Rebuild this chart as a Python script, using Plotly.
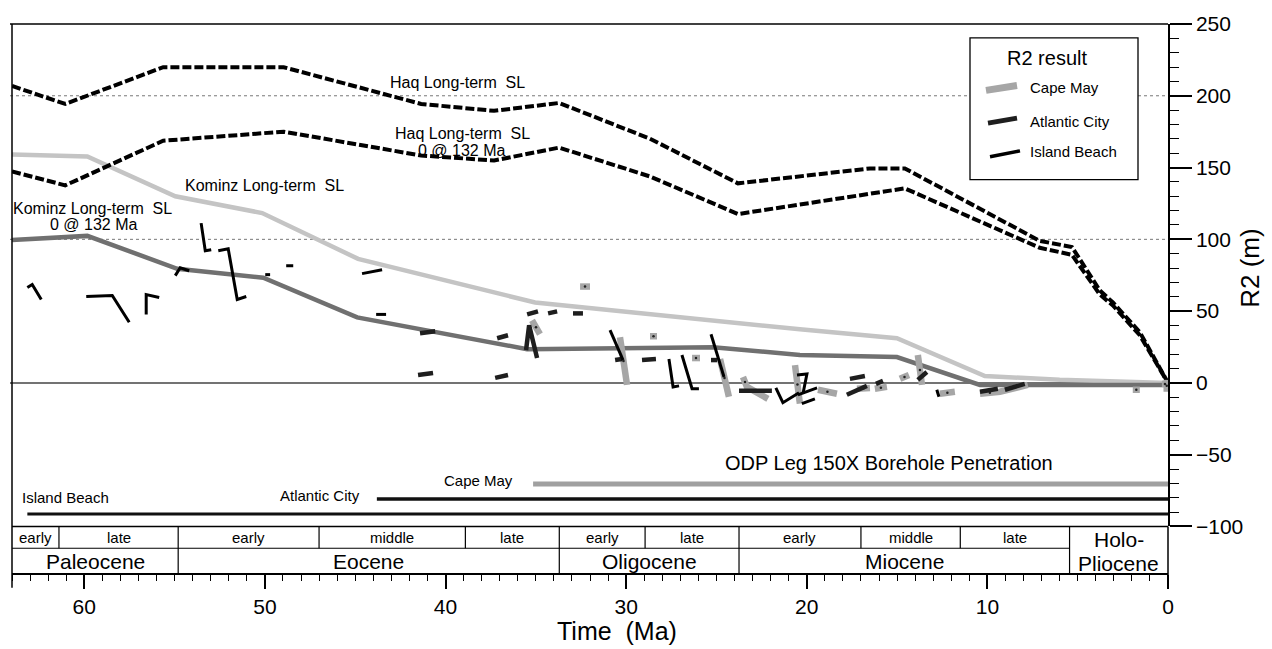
import plotly.graph_objects as go

# ---------------- data (age in Ma, value in m) ----------------
haq_ages = [64.0, 61.05, 55.63, 48.96, 41.35, 37.31, 33.71, 28.68, 23.81, 16.5, 14.57, 7.1, 5.32, 3.77, 3.05, 1.56, 0.0]
haq_vals = [206.8, 194.3, 219.9, 219.9, 194.3, 189.5, 195.0, 170.1, 139.0, 149.4, 149.4, 98.9, 94.7, 64.3, 56.0, 35.3, 0.0]

haq132_ages = [64.0, 61.05, 55.63, 48.96, 41.35, 37.31, 33.71, 28.68, 23.81, 16.5, 14.57, 7.1, 5.32, 3.77, 3.05, 1.56, 0.0]
haq132_vals = [147.3, 137.6, 168.7, 175.0, 158.4, 154.9, 163.9, 143.8, 117.6, 132.1, 135.5, 94.1, 89.2, 61.5, 53.9, 33.2, 0.0]

kominz_ages = [64.0, 59.83, 54.96, 50.15, 44.84, 35.04, 20.38, 15.01, 10.14, 6.0, 0.0]
kominz_vals = [159.1, 157.7, 130.0, 118.3, 86.4, 56.0, 37.3, 31.1, 4.8, 2.1, 0.0]

kominz132_ages = [64.0, 59.83, 54.85, 50.09, 44.89, 35.48, 25.19, 20.38, 15.01, 10.41, 0.0]
kominz132_vals = [99.6, 102.4, 79.5, 73.3, 45.6, 23.5, 24.9, 19.4, 18.0, -1.4, -1.5]

island_beach_segments = [
    [(63.15, 66.4), (62.88, 68.5), (62.38, 58.1)],
    [(59.89, 60.2), (58.45, 60.9), (57.51, 42.2)],
    [(56.57, 47.7), (56.57, 61.5), (55.85, 59.5)],
    [(54.96, 74.7), (54.69, 80.2), (54.19, 78.1)],
    [(53.53, 111.3), (53.30, 92.0), (52.97, 92.7)],
    [(52.58, 92.0), (52.03, 93.4), (51.53, 58.1), (51.03, 60.2)],
    [(49.98, 75.4), (49.71, 75.4)],
    [(48.82, 81.6), (48.43, 81.6)],
    [(44.62, 76.1), (43.51, 78.8)],
    [(43.84, 47.7), (43.29, 47.7)],
    [(30.89, 36.7), (30.17, 15.9)],
    [(27.63, 16.6), (27.40, -2.8), (27.07, -2.1)],
    [(26.91, 19.4), (26.35, -4.1), (25.97, -4.1)],
    [(25.30, 33.9), (24.58, 4.1)],
    [(21.71, -3.5), (21.32, -13.8), (20.43, -6.9)],
    [(20.54, 5.5), (19.99, 6.2), (20.21, -7.6)],
    [(20.49, -8.3), (19.43, -3.5)],
    [(20.27, -14.5), (19.55, -11.1)],
    [(12.80, -4.8), (12.68, -9.7)],
]

atlantic_city_segments = [
    [(41.41, 34.6), (40.57, 36.0)],
    [(41.52, 5.5), (40.69, 6.9)],
    [(37.14, 31.1), (36.54, 33.2)],
    [(37.25, 3.5), (36.54, 5.5)],
    [(35.54, 22.8), (35.37, 40.1), (34.93, 17.3)],
    [(35.48, 47.7), (34.88, 49.8)],
    [(34.32, 48.4), (33.82, 49.8)],
    [(32.94, 48.4), (32.39, 48.4)],
    [(30.61, 15.9), (30.23, 16.6)],
    [(29.12, 15.9), (28.35, 16.6)],
    [(25.30, 15.9), (24.97, 15.9)],
    [(23.75, -5.5), (21.93, -5.5)],
    [(17.61, 2.8), (16.78, 4.8)],
    [(17.78, -8.3), (16.67, -2.1)],
    [(16.17, -0.7), (15.78, 1.4)],
    [(13.85, 2.1), (13.35, 7.6)],
    [(10.41, -6.2), (9.42, -4.1)],
    [(9.03, -4.8), (7.93, -0.7)],
]

cape_may_segments = [
    [(35.21, 43.6), (34.77, 33.9)],
    [(32.55, 67.1), (32.0, 67.1)],
    [(30.34, 31.8), (29.95, -1.4)],
    [(28.68, 32.5), (28.29, 32.5)],
    [(26.35, 17.3), (25.91, 17.3)],
    [(24.80, 16.6), (24.31, -9.7)],
    [(23.53, 4.1), (23.31, -2.8), (22.15, -11.1)],
    [(20.65, 12.4), (20.38, -14.5)],
    [(19.38, -4.8), (18.33, -7.6)],
    [(17.22, -4.1), (16.50, -3.5)],
    [(16.23, -4.1), (15.56, -2.8)],
    [(14.84, 2.8), (14.34, 5.5)],
    [(13.85, 19.4), (13.62, -1.4)],
    [(12.63, -7.6), (11.80, -6.2)],
    [(10.41, -7.6), (9.31, -6.2), (7.76, -1.4)],
    [(1.95, -4.8), (1.56, -4.8)],
    [(0.34, -0.7), (0.0, -0.7)],
    [(0.07, 2.1), (0.07, -6.2)],
]

# borehole penetration (start age, level)
borehole_names = ["Cape May", "Atlantic City", "Island Beach"]
borehole_start = [35.15, 43.8, 63.15]
borehole_level = [-70.5, -80.9, -91.3]

# timescale
subepoch_bounds = [64.0, 61.4, 54.8, 47.0, 38.9, 33.7, 28.95, 23.75, 17.0, 11.5, 5.45]
subepoch_labels = ["early", "late", "early", "middle", "late", "early", "late", "early", "middle", "late"]
epoch_bounds = [64.0, 54.8, 33.7, 23.75, 5.45, 0.0]
epoch_labels = ["Paleocene", "Eocene", "Oligocene", "Miocene", "Holo-<br>Pliocene"]

x_ticks = [60, 55, 50, 45, 40, 35, 30, 25, 20, 15, 10, 5, 0]
x_ticktext = ["60", "", "50", "", "40", "", "30", "", "20", "", "10", "", "0"]

# ---------------- layout helpers (pixel geometry) ----------------
W, H = 1272, 649
ML, MR, MT, MB = 12, 104, 19, 75
PW, PH = W - ML - MR, H - MT - MB
FONT = "Liberation Sans, Arial, Helvetica, sans-serif"


def xp(px):
    return (px - ML) / PW


def yp(py):
    return (H - MB - py) / PH


def seg_xy(segs):
    xs, ys = [], []
    for s in segs:
        for a, v in s:
            xs.append(a)
            ys.append(v)
        xs.append(None)
        ys.append(None)
    return xs, ys


def seg_mid(segs):
    xs, ys = [], []
    for s in segs:
        a0, v0 = s[0]
        a1, v1 = s[1]
        xs.append((a0 + a1) / 2)
        ys.append((v0 + v1) / 2)
    return xs, ys


fig = go.Figure()

fig.add_trace(go.Scatter(x=kominz_ages, y=kominz_vals, mode="lines",
                         line=dict(color="#c4c4c4", width=4.5), hoverinfo="skip"))
fig.add_trace(go.Scatter(x=kominz132_ages, y=kominz132_vals, mode="lines",
                         line=dict(color="#707070", width=4.5), hoverinfo="skip"))
fig.add_trace(go.Scatter(x=haq_ages, y=haq_vals, mode="lines",
                         line=dict(color="black", width=4, dash="9px,3px"), hoverinfo="skip"))
fig.add_trace(go.Scatter(x=haq132_ages, y=haq132_vals, mode="lines",
                         line=dict(color="black", width=4, dash="9px,3px"), hoverinfo="skip"))

# borehole penetration lines
bh_colors = ["#a0a0a0", "#111111", "#111111"]
bh_widths = [5, 3.5, 3]
for name, st, lv, c, w in zip(borehole_names, borehole_start, borehole_level, bh_colors, bh_widths):
    fig.add_trace(go.Scatter(x=[st, 0], y=[lv, lv], mode="lines", line=dict(color=c, width=w),
                             hoverinfo="skip"))

cx, cy = seg_xy(cape_may_segments)
fig.add_trace(go.Scatter(x=cx, y=cy, mode="lines", line=dict(color="#a6a6a6", width=6.5),
                         connectgaps=False, hoverinfo="skip"))
mx, my = seg_mid(cape_may_segments)
fig.add_trace(go.Scatter(x=mx, y=my, mode="markers", marker=dict(color="#222", size=2.5),
                         hoverinfo="skip"))
ax_, ay_ = seg_xy(atlantic_city_segments)
fig.add_trace(go.Scatter(x=ax_, y=ay_, mode="lines", line=dict(color="#1e1e1e", width=4.5),
                         connectgaps=False, hoverinfo="skip"))
ix, iy = seg_xy(island_beach_segments)
fig.add_trace(go.Scatter(x=ix, y=iy, mode="lines", line=dict(color="#000000", width=3),
                         connectgaps=False, hoverinfo="skip"))

shapes = []
# reference lines
shapes.append(dict(type="line", xref="paper", yref="y", x0=xp(10), x1=1, y0=0, y1=0,
                   line=dict(color="#444", width=1.5), layer="below"))
for lv in (200, 100):
    shapes.append(dict(type="line", xref="paper", yref="y", x0=xp(10), x1=1, y0=lv, y1=lv,
                       line=dict(color="#777", width=1, dash="dot"), layer="below"))
# frame
shapes.append(dict(type="line", xref="paper", yref="paper", x0=xp(10), x1=1, y0=1, y1=1,
                   line=dict(color="black", width=1.5)))
shapes.append(dict(type="line", xref="paper", yref="paper", x0=xp(12), x1=xp(12), y0=1, y1=yp(588),
                   line=dict(color="black", width=1.5)))
# timescale boxes
y_top, y_mid = yp(526), yp(548)
shapes.append(dict(type="line", xref="paper", yref="paper", x0=xp(12), x1=1, y0=y_top, y1=y_top,
                   line=dict(color="black", width=1.5)))
shapes.append(dict(type="line", xref="x", yref="paper", x0=64, x1=5.45, y0=y_mid, y1=y_mid,
                   line=dict(color="black", width=1.2)))
for b in subepoch_bounds[1:]:
    if b in epoch_bounds:
        continue
    shapes.append(dict(type="line", xref="x", yref="paper", x0=b, x1=b, y0=y_mid, y1=y_top,
                       line=dict(color="black", width=1.2)))
for b in epoch_bounds[1:-1]:
    shapes.append(dict(type="line", xref="x", yref="paper", x0=b, x1=b, y0=0, y1=y_top,
                       line=dict(color="black", width=1.2)))
shapes.append(dict(type="line", xref="paper", yref="paper", x0=1, x1=1, y0=yp(588), y1=y_top,
                   line=dict(color="black", width=1.5)))

# legend box
shapes.append(dict(type="rect", xref="paper", yref="paper", x0=xp(970), x1=xp(1138), y0=yp(176), y1=yp(33),
                   line=dict(color="black", width=1.3), fillcolor="white"))
leg_lines = [((986, 86), (1017, 81), "#a6a6a6", 7), ((988, 119), (1017, 114), "#1e1e1e", 5),
             ((990, 153), (1020, 147), "#000", 3.5)]
for (x0, y0), (x1, y1), c, w in leg_lines:
    shapes.append(dict(type="line", xref="paper", yref="paper", x0=xp(x0), y0=yp(y0), x1=xp(x1), y1=yp(y1),
                       line=dict(color=c, width=w)))

ann = []


def txt(text, x, y, size, xanchor="center", xref="paper", yref="paper", angle=0):
    ann.append(dict(text=text, x=x, y=y, xref=xref, yref=yref, showarrow=False, xanchor=xanchor,
                    yanchor="middle", textangle=angle, font=dict(family=FONT, size=size, color="black")))


ymid_sub = yp(537)
for i, lab in enumerate(subepoch_labels):
    c = (subepoch_bounds[i] + subepoch_bounds[i + 1]) / 2
    txt(lab, c, ymid_sub, 15, xref="x")
for i, lab in enumerate(epoch_labels):
    c = (epoch_bounds[i] + epoch_bounds[i + 1]) / 2
    if "<br>" in lab:
        a, b = lab.split("<br>")
        txt(a, c, yp(539), 21, xref="x")
        txt(b, c, yp(563), 21, xref="x")
    else:
        txt(lab, c, yp(561), 21, xref="x")

txt("Haq Long-term\u00a0 SL", xp(457), yp(78), 16)
txt("Haq Long-term\u00a0 SL", xp(462), yp(130), 16)
txt("0 @ 132 Ma", xp(462), yp(147), 16)
txt("Kominz Long-term\u00a0 SL", xp(264), yp(182), 16)
txt("Kominz Long-term\u00a0 SL", xp(92), yp(205), 16)
txt("0 @ 132 Ma", xp(94), yp(221), 16)

txt("R2 result", xp(1047), yp(53), 20)
txt("Cape May", xp(1028), yp(83), 15, xanchor="left")
txt("Atlantic City", xp(1028), yp(117), 15, xanchor="left")
txt("Island Beach", xp(1028), yp(148), 15, xanchor="left")

txt("ODP Leg 150X Borehole Penetration", xp(889), yp(462), 20)
txt("Cape May", xp(515), yp(480), 15, xanchor="right")
txt("Atlantic City", xp(320), yp(495), 15)
txt("Island Beach", xp(65), yp(497), 15)

txt("Time\u00a0 (Ma)", xp(617), yp(632), 25)
txt("R2 (m)", xp(1250), yp(266), 26, angle=-90)

fig.update_layout(
    width=W, height=H,
    margin=dict(l=ML, r=MR, t=MT, b=MB, pad=0),
    paper_bgcolor="white", plot_bgcolor="white",
    showlegend=False,
    shapes=shapes, annotations=ann,
    font=dict(family=FONT, color="black"),
    xaxis=dict(range=[64, 0], domain=[0, 1], anchor="free", position=0,
               showline=True, linecolor="black", linewidth=1.5, mirror=False,
               showgrid=False, zeroline=False,
               tickmode="array", tickvals=x_ticks, ticktext=x_ticktext,
               ticks="outside", ticklen=14, tickwidth=1.5, tickcolor="black",
               tickfont=dict(size=21, family=FONT),
               minor=dict(tickmode="array", tickvals=list(range(0, 65)), ticks="outside",
                          ticklen=6, tickwidth=1.2, tickcolor="black")),
    yaxis=dict(range=[-100, 250], domain=[yp(526), 1], side="right", anchor="x",
               showline=True, linecolor="black", linewidth=1.5,
               showgrid=False, zeroline=False,
               tickmode="linear", tick0=0, dtick=50,
               ticks="outside", ticklen=22, tickwidth=1.5, tickcolor="black",
               tickfont=dict(size=21, family=FONT),
               minor=dict(dtick=10, ticks="outside", ticklen=9, tickwidth=1.2, tickcolor="black")),
)

fig.write_html("out.html")
